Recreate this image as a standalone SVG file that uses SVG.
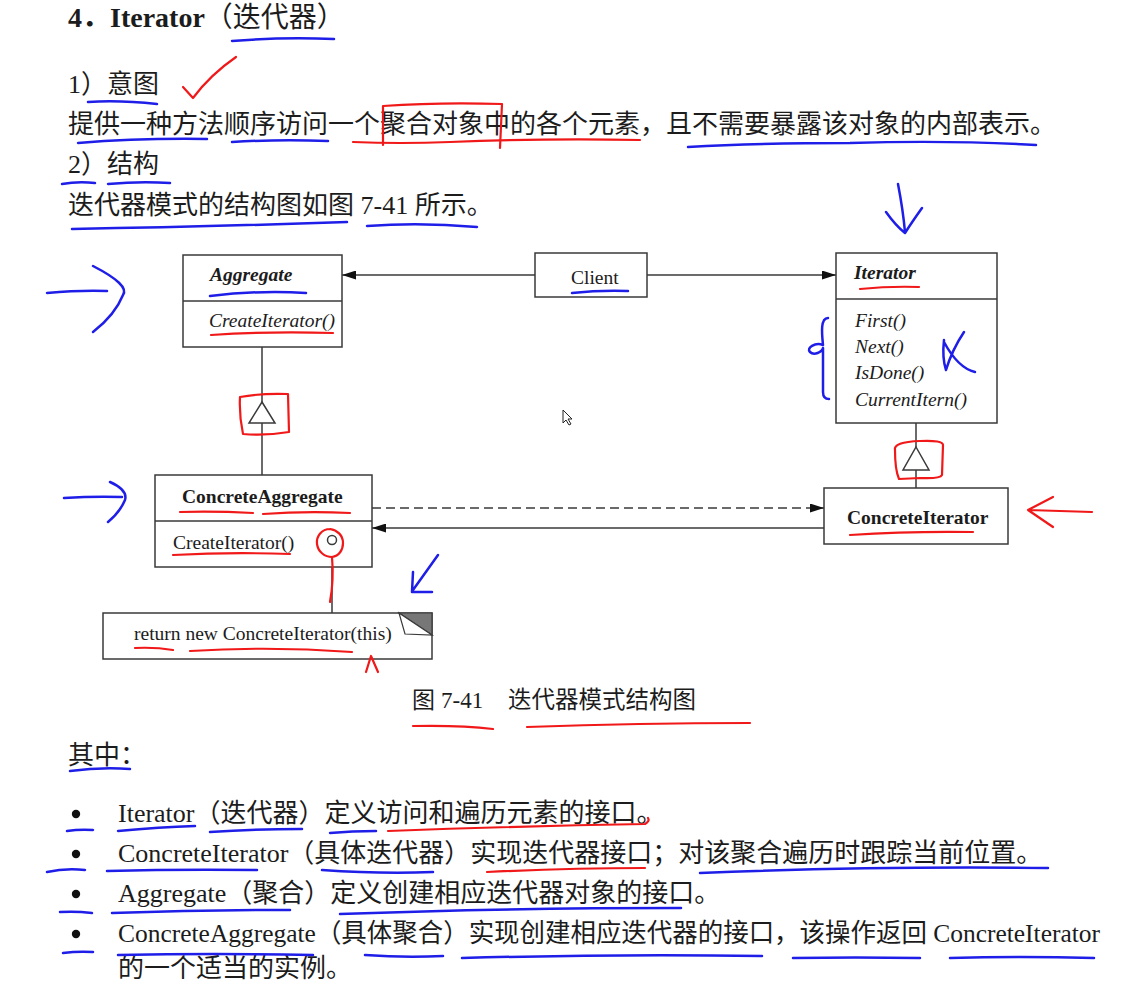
<svg xmlns="http://www.w3.org/2000/svg" width="1122" height="984" viewBox="0 0 1122 984">
<style>
.t{font-family:"Liberation Serif","Noto Sans CJK SC",serif;fill:#1c1c1c}
.b{font-size:26px}
.d{font-size:19.5px}
.box{fill:#fff;stroke:#3a3a3a;stroke-width:1.5}
.ln{fill:none;stroke:#3a3a3a;stroke-width:1.5}
.bl{fill:none;stroke:#1e1ee8;stroke-width:2.5;stroke-linecap:round;stroke-linejoin:round}
.rd{fill:none;stroke:#f01818;stroke-width:2.2;stroke-linecap:round;stroke-linejoin:round}
</style>
<defs>
<marker id="ah" markerWidth="14" markerHeight="9" refX="14" refY="4.5" orient="auto" markerUnits="userSpaceOnUse">
<path d="M0,0 L14,4.5 L0,9 Z" fill="#111"/>
</marker>
</defs>
<rect width="1122" height="984" fill="#fff"/>

<g id="text">
<text class="t" x="68" y="27" font-size="28"><tspan font-weight="bold">4．Iterator</tspan>（迭代器）</text>
<text class="t b" x="68" y="93">1）意图</text>
<text class="t b" x="68" y="133">提供一种方法顺序访问一个聚合对象中的各个元素，且不需要暴露该对象的内部表示。</text>
<text class="t b" x="68" y="173">2）结构</text>
<text class="t b" x="68" y="214">迭代器模式的结构图如图 7-41 所示。</text>
<text class="t" y="708" font-size="23"><tspan x="412">图</tspan><tspan x="441">7-41</tspan><tspan x="508" font-size="23.5">迭代器模式结构图</tspan></text>
<text class="t b" x="68" y="764">其中：</text>
<circle cx="76" cy="814" r="4.2" fill="#111"/>
<circle cx="76" cy="854" r="4.2" fill="#111"/>
<circle cx="76" cy="894" r="4.2" fill="#111"/>
<circle cx="76" cy="934" r="4.2" fill="#111"/>
<text class="t b" x="118" y="822">Iterator（迭代器）定义访问和遍历元素的接口。</text>
<text class="t b" x="118" y="862">ConcreteIterator（具体迭代器）实现迭代器接口；对该聚合遍历时跟踪当前位置。</text>
<text class="t b" x="118" y="902">Aggregate（聚合）定义创建相应迭代器对象的接口。</text>
<text class="t b" x="118" y="942" textLength="982" lengthAdjust="spacingAndGlyphs">ConcreteAggregate（具体聚合）实现创建相应迭代器的接口，该操作返回 ConcreteIterator</text>
<text class="t b" x="118" y="977">的一个适当的实例。</text>
</g>

<g id="connectors">
<line class="ln" x1="535" y1="275" x2="342" y2="275" marker-end="url(#ah)"/>
<line class="ln" x1="647" y1="275" x2="836" y2="275" marker-end="url(#ah)"/>
<line class="ln" x1="262" y1="347" x2="262" y2="402"/>
<line class="ln" x1="262" y1="423" x2="262" y2="475"/>
<polygon class="box" points="262,402 275,423 249,423"/>
<line class="ln" x1="916" y1="423" x2="916" y2="447"/>
<line class="ln" x1="916" y1="470" x2="916" y2="488"/>
<polygon class="box" points="916,447 929,470 903,470"/>
<line class="ln" x1="372" y1="508" x2="824" y2="508" stroke-dasharray="9 5" marker-end="url(#ah)"/>
<line class="ln" x1="824" y1="528" x2="372" y2="528" marker-end="url(#ah)"/>
<line class="ln" x1="332" y1="545" x2="332" y2="613"/>
</g>

<g id="aggregate">
<rect class="box" x="183" y="255" width="159" height="92"/>
<line class="ln" x1="183" y1="301" x2="342" y2="301"/>
<text class="t d" x="210" y="281" font-weight="bold" font-style="italic">Aggregate</text>
<text class="t d" x="209" y="327" font-style="italic">CreateIterator()</text>
</g>

<g id="client">
<rect class="box" x="535" y="253" width="112" height="44"/>
<text class="t d" x="571" y="284">Client</text>
</g>

<g id="iterator">
<rect class="box" x="836" y="253" width="161" height="170"/>
<line class="ln" x1="836" y1="299" x2="997" y2="299"/>
<text class="t d" x="854" y="279" font-weight="bold" font-style="italic">Iterator</text>
<text class="t d" x="855" y="327" font-style="italic">First()</text>
<text class="t d" x="855" y="353" font-style="italic">Next()</text>
<text class="t d" x="855" y="379" font-style="italic">IsDone()</text>
<text class="t d" x="855" y="406" font-style="italic">CurrentItern()</text>
</g>

<g id="concrete-iterator">
<rect class="box" x="824" y="488" width="184" height="56"/>
<text class="t d" x="847" y="524" font-weight="bold">ConcreteIterator</text>
</g>

<g id="concrete-aggregate">
<rect class="box" x="155" y="475" width="217" height="92"/>
<line class="ln" x1="155" y1="521" x2="372" y2="521"/>
<text class="t d" x="182" y="503" font-weight="bold">ConcreteAggregate</text>
<text class="t d" x="173" y="549">CreateIterator()</text>
<circle cx="332" cy="540" r="4.5" fill="#fff" stroke="#3a3a3a" stroke-width="1.5"/>
</g>

<g id="note">
<rect class="box" x="103" y="613" width="329" height="46"/>
<polygon points="399,613 432,613 432,635" fill="#777" stroke="#3a3a3a" stroke-width="1.2"/>
<polygon points="399,613 405,634 432,635" fill="#fff" stroke="#3a3a3a" stroke-width="1.2"/>
<text class="t d" x="134" y="640">return new ConcreteIterator(this)</text>
</g>

<g id="cursor">
<path d="M563 410 L563 423 L566 420 L569 425 L571 424 L568 419 L572 419 Z" fill="#fff" stroke="#222" stroke-width="1"/>
</g>

<g id="annotations-blue">
<path class="bl" d="M232 41 Q280 37 334 39"/>
<path class="bl" d="M88 102 Q120 100 157 104"/>
<path class="bl" d="M78 143 Q140 138 207 139"/>
<path class="bl" d="M232 142 Q280 139 328 141"/>
<path class="bl" d="M688 147 Q760 143 850 143 Q950 140 1036 145"/>
<path class="bl" d="M62 184 Q78 181 95 183"/>
<path class="bl" d="M108 184 Q140 181 170 183"/>
<path class="bl" d="M72 229 Q200 227 347 222"/>
<path class="bl" d="M367 226 Q420 222 477 227"/>
<path class="bl" d="M898 184 Q903 210 905 232 M886 212 Q896 226 905 233 Q912 222 922 208"/>
<path class="bl" d="M47 293 Q80 290 107 291 M93 266 Q130 285 123 295 Q115 315 93 332"/>
<path class="bl" d="M210 296 Q260 290 306 293"/>
<path class="bl" d="M572 293 Q600 290 628 291"/>
<path class="bl" d="M828 318 C820 318 822 335 823 345 C815 342 806 348 810 352 C814 356 822 352 823 348 L823 392 C823 398 826 399 829 399"/>
<path class="bl" d="M944 340 Q942 358 946 370 Q952 350 964 332 M944 342 Q958 368 975 372"/>
<path class="bl" d="M64 498 Q95 496 122 497 M110 482 Q128 490 125 500 Q120 512 108 522"/>
<path class="bl" d="M438 555 L413 590 M413 572 L412 592 L432 592"/>
<path class="bl" d="M70 771 Q100 767 130 769"/>
<path class="bl" d="M67 831 Q80 829 93 830"/>
<path class="bl" d="M118 831 Q160 827 195 826"/>
<path class="bl" d="M210 832 Q255 829 302 829"/>
<path class="bl" d="M330 833 Q352 831 376 831"/>
<path class="bl" d="M47 872 Q65 868 85 870"/>
<path class="bl" d="M107 871 Q180 869 257 870"/>
<path class="bl" d="M322 870 Q380 874 433 872"/>
<path class="bl" d="M700 873 Q870 866 1048 868"/>
<path class="bl" d="M60 912 Q76 911 92 913"/>
<path class="bl" d="M112 913 Q200 910 290 910"/>
<path class="bl" d="M340 914 Q500 908 681 908"/>
<path class="bl" d="M63 953 Q78 951 93 952"/>
<path class="bl" d="M118 955 Q215 953 313 955"/>
<path class="bl" d="M365 955 Q405 958 443 956"/>
<path class="bl" d="M462 958 Q610 954 762 956"/>
<path class="bl" d="M793 958 Q855 957 920 958"/>
<path class="bl" d="M950 958 Q1020 956 1094 958"/>
</g>

<g id="annotations-red">
<path class="rd" d="M183 87 L193 98 Q210 75 236 57"/>
<path class="rd" d="M353 142 Q400 144 450 142 Q550 138 640 140"/>
<path class="rd" d="M383 145 L383 106 Q440 102 502 104 L500 148"/>
<path class="rd" d="M211 335 Q270 331 333 333"/>
<path class="rd" d="M860 289 Q890 286 919 287"/>
<path class="rd" d="M895 450 Q893 442 920 441 Q943 440 943 445 L942 475 Q940 479 920 478 L899 479 Q895 470 895 450"/>
<path class="rd" d="M240 397 Q262 393 288 394 L289 432 Q265 436 243 434 Q239 415 240 397"/>
<path class="rd" d="M1028 510 Q1060 511 1092 512 M1053 497 L1028 510 L1053 527"/>
<path class="rd" d="M850 535 Q910 531 973 532"/>
<path class="rd" d="M180 512 Q215 511 253 513 M263 514 Q305 511 350 513"/>
<path class="rd" d="M173 555 Q230 552 290 554"/>
<path class="rd" d="M330 529 C322 529 316 536 317 544 C318 552 325 557 332 557 C339 556 343 550 343 543 C343 535 337 530 330 529"/>
<path class="rd" d="M332 557 Q334 580 330 602"/>
<path class="rd" d="M135 648 Q155 647 173 650 M190 651 Q270 646 352 652"/>
<path class="rd" d="M366 672 L371 656 L378 672"/>
<path class="rd" d="M413 726 Q460 725 493 729 M527 727 Q640 723 750 723"/>
<path class="rd" d="M388 831 Q520 826 645 824 Q650 821 648 818"/>
<path class="rd" d="M487 872 Q570 868 645 868"/>
</g>
</svg>
